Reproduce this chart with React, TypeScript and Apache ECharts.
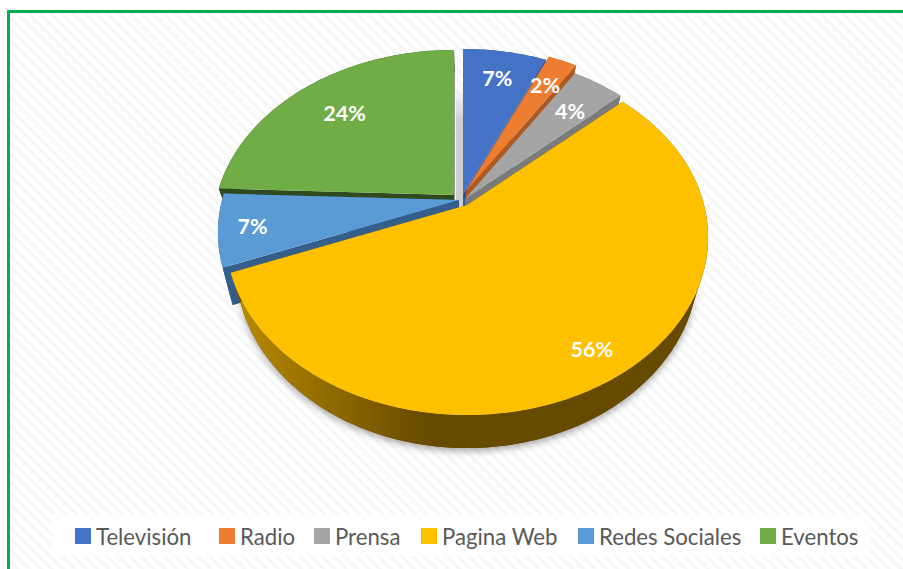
import React, { useEffect, useRef } from "react";
import * as echarts from "echarts";

const categories = ["Televisión", "Radio", "Prensa", "Pagina Web", "Redes Sociales", "Eventos"];
const values = [6.7, 2.3, 4.2, 55.8, 6.6, 24.4];
const topColors = ["#4472c4", "#ed7d31", "#a5a5a5", "#ffc000", "#5b9bd5", "#70ad47"];
const wallColors = ["#2f5597", "#ae5a21", "#7b7b7b", "#664a00", "#335f8a", "#2f4a1f"];
// paint order, back to front
const paintOrder = [5, 0, 1, 2, 4, 3];
// where each exploded slice's tip falls on the page
const tips = [[463, 194], [466, 191], [465, 199], [467, 205], [459, 200], [454, 195]];
const depths = [27, 27, 27, 27, 35, 27];
// label placement: radius fraction, fraction across the slice
const labelRadius = [0.79, 0.79, 0.75, 0.86, 0.86, 0.73];
const labelSpan = [0.5, 0.52, 0.55, 0.5, 0.5, 0.5];
// left edge of each legend key on the page
const legendLefts = [75, 219, 314, 421, 578, 760];

const R = 237, K = 0.724, P = 0.183, SHRINK = 0.96, AXIS_X = 467;
const TOTAL = values.reduce((a, b) => a + b, 0);

function project(deg: number, r: number) {
  const a = (deg * Math.PI) / 180;
  const u = r * Math.sin(a), v = -r * Math.cos(a), w = 1 - P * v;
  return { x: (R * u) / w, y: (R * K * v) / w, w };
}
function range(i: number) {
  let s = 0;
  for (let k = 0; k < i; k++) s += values[k];
  return [(s / TOTAL) * 360, ((s + values[i]) / TOTAL) * 360];
}
function rim(i: number, from?: number, to?: number) {
  const [r0, r1] = range(i);
  const a0 = from ?? r0, a1 = to ?? r1;
  const n = Math.max(2, Math.ceil(a1 - a0));
  const pts: { x: number; y: number; w: number }[] = [];
  for (let k = 0; k <= n; k++) {
    const p = project(a0 + ((a1 - a0) * k) / n, 1);
    pts.push({ x: tips[i][0] + p.x, y: tips[i][1] + p.y, w: p.w });
  }
  return pts;
}

function sliceShapes(i: number) {
  const pts = rim(i);
  const tip = { x: tips[i][0], y: tips[i][1], w: 1 };
  const xy = (p: { x: number; y: number }) => [p.x, p.y];
  const lower = (p: { x: number; y: number; w: number }) => [
    AXIS_X + (p.x - AXIS_X) * SHRINK,
    p.y + depths[i] / p.w,
  ];
  const first = pts[0], last = pts[pts.length - 1];
  const wallFill: any =
    i === 3
      ? new echarts.graphic.LinearGradient(
          235, 0, 430, 0,
          [
            { offset: 0, color: "#bb8c00" },
            { offset: 0.35, color: "#9a7300" },
            { offset: 1, color: "#664a00" },
          ],
          true
        )
      : wallColors[i];
  const children: any[] = [];
  if (i === 5) {
    children.push({
      type: "polygon",
      shape: { points: [[456, 85], [463, 85], [463, 206], [456, 206]] },
      style: {
        fill: new echarts.graphic.LinearGradient(0, 0, 0, 1, [
          { offset: 0, color: "rgba(190,190,190,0)" },
          { offset: 0.3, color: "rgba(195,195,195,0.8)" },
          { offset: 1, color: "#cdcdcd" },
        ]),
      },
    });
  }
  if (i === 3) {
    // soft shadow under the front of the pie only
    const front = rim(3, 115, 245);
    children.push({
      type: "polygon",
      shape: { points: [...front.map(xy), ...front.slice().reverse().map(lower)] },
      style: {
        fill: "#664a00",
        shadowBlur: 7,
        shadowColor: "rgba(0,0,0,0.35)",
        shadowOffsetY: 3,
      },
    });
  }
  children.push({
    type: "polygon",
    shape: { points: [...pts.map(xy), ...pts.slice().reverse().map(lower)] },
    style: { fill: wallFill },
  });
  children.push({
    type: "polygon",
    shape: { points: [xy(tip), xy(first), lower(first), lower(tip)] },
    style: { fill: wallColors[i] },
  });
  children.push({
    type: "polygon",
    shape: { points: [xy(tip), xy(last), lower(last), lower(tip)] },
    style: { fill: wallColors[i] },
  });
  children.push({
    type: "polygon",
    shape: { points: [xy(tip), ...pts.map(xy)] },
    style: { fill: topColors[i] },
  });
  return children;
}

export default function App() {
  const ref = useRef<HTMLDivElement>(null);
  useEffect(() => {
    const chart = echarts.init(ref.current!, undefined, { renderer: "svg" });
    const sliceSeries = categories.map((name, i) => ({
      type: "custom",
      name,
      coordinateSystem: "none",
      z: 2 + paintOrder.indexOf(i),
      silent: true,
      itemStyle: { color: topColors[i] },
      data: [[values[i]]],
      renderItem: () => ({ type: "group", children: sliceShapes(i) }),
    }));
    const labelSeries = {
      type: "custom",
      name: "labels",
      coordinateSystem: "none",
      z: 20,
      silent: true,
      data: values.map((v, i) => [v, i]),
      renderItem: (_: any, api: any) => {
        const i = api.value(1);
        const [a0, a1] = range(i);
        const p = project(a0 + (a1 - a0) * labelSpan[i], labelRadius[i]);
        return {
          type: "text",
          x: tips[i][0] + p.x,
          y: tips[i][1] + p.y,
          style: {
            text: Math.round(api.value(0)) + "%",
            fill: "#ffffff",
            font: 'bold 21.5px Lato, "Open Sans", sans-serif',
            align: "center",
            verticalAlign: "middle",
          },
        };
      },
    };
    chart.setOption({
      animation: false,
      backgroundColor: "transparent",
      legend: categories.map((name, i) => ({
        data: [name],
        left: legendLefts[i] - 5,
        top: 520,
        icon: "rect",
        itemWidth: 16,
        itemHeight: 16,
        selectedMode: false,
        textStyle: {
          color: "#595959",
          fontFamily: 'Lato, "Open Sans", sans-serif',
          fontSize: 22.2,
        },
      })),
      series: [...sliceSeries, labelSeries],
    });
    return () => chart.dispose();
  }, []);
  return (
    <div style={{ position: "fixed", left: 0, top: 0, width: 903, height: 569, overflow: "hidden", background: "#fff" }}>
      <div
        style={{
          position: "absolute",
          left: 7,
          top: 10,
          right: 0,
          bottom: 0,
          borderLeft: "3px solid #00b050",
          borderTop: "3px solid #00b050",
          background:
            "repeating-linear-gradient(45deg, #ffffff 0px, #ffffff 3px, #f7f7f7 5px, #f7f7f7 7px, #ffffff 8px)",
        }}
      />
      <div style={{ position: "absolute", left: 52, top: 515, width: 818, height: 41, background: "rgba(255,255,255,0.85)" }} />
      <div ref={ref} style={{ position: "absolute", left: 0, top: 0, width: 903, height: 569 }} />
    </div>
  );
}
